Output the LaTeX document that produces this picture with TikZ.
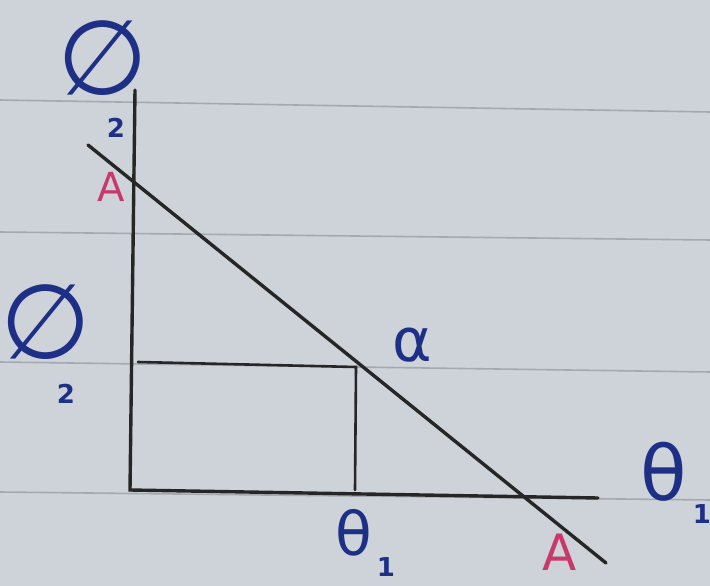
\documentclass[tikz,border=0pt]{standalone}
\usepackage{fontspec}
\newfontfamily\djv{DejaVu Sans}
\definecolor{paper}{HTML}{CDD3D8}
\definecolor{rulec}{HTML}{A3A9AE}
\definecolor{pen}{HTML}{1E2F86}
\definecolor{redpen}{HTML}{C8386A}
\begin{document}
\begin{tikzpicture}[x=1pt,y=-1pt,
  ink/.style={line width=3.4pt,color=black!85,line cap=round},
  thin ink/.style={line width=2.6pt,color=black!85,line cap=round},
  rule/.style={line width=1.6pt,color=rulec},
  blue label/.style={text=pen,inner sep=0pt,font=\djv\fontsize{60}{60}\selectfont},
  phi label/.style={text=pen,inner sep=0pt,font=\djv\fontsize{104}{104}\selectfont},
  sub label/.style={text=pen,inner sep=0pt,font=\djv\fontsize{26}{26}\bfseries\selectfont},
  red label/.style={text=redpen,inner sep=0pt,font=\djv\fontsize{40}{40}\selectfont}]
\fill[paper] (0,0) rectangle (710,586);
\useasboundingbox (0,0) rectangle (710,586);
% ruled paper lines
\draw[rule] (0,100) -- (710,112);
\draw[rule] (0,232) -- (710,240);
\draw[rule] (0,362) -- (710,372);
\draw[rule] (0,492) -- (710,500);
% axes
\coordinate (ytop) at (135,90);
\coordinate (o) at (130,490);
\coordinate (xend) at (598,498);
\coordinate (ds) at (88,145);
\coordinate (de) at (606,563);
\coordinate (hl) at (138,362);
\coordinate (p) at (356,367);
\coordinate (pb) at (355,490);
\draw[ink] (ytop) -- (o) -- (xend);
\draw[ink] (ds) -- (de);
\draw[thin ink] (hl) -- (p) -- (pb);
% labels
\node[phi label] (phitop) at (103,58) {∅};
\node[sub label] (two1) at (116,128) {2};
\node[red label] (a1) at (111,187) {A};
\node[phi label] (phileft) at (46,322) {∅};
\node[sub label] (two2) at (66,394) {2};
\node[blue label] (alpha) at (412,345) {α};
\node[blue label,font=\djv\fontsize{76}{76}\selectfont] (thr) at (664,472) {θ};
\node[sub label] (one1) at (702,514) {1};
\node[blue label] (thb) at (354,533) {θ};
\node[sub label] (one2) at (386,567) {1};
\node[red label,font=\djv\fontsize{50}{50}\selectfont] (a2) at (560,552) {A};
\end{tikzpicture}
\end{document}
